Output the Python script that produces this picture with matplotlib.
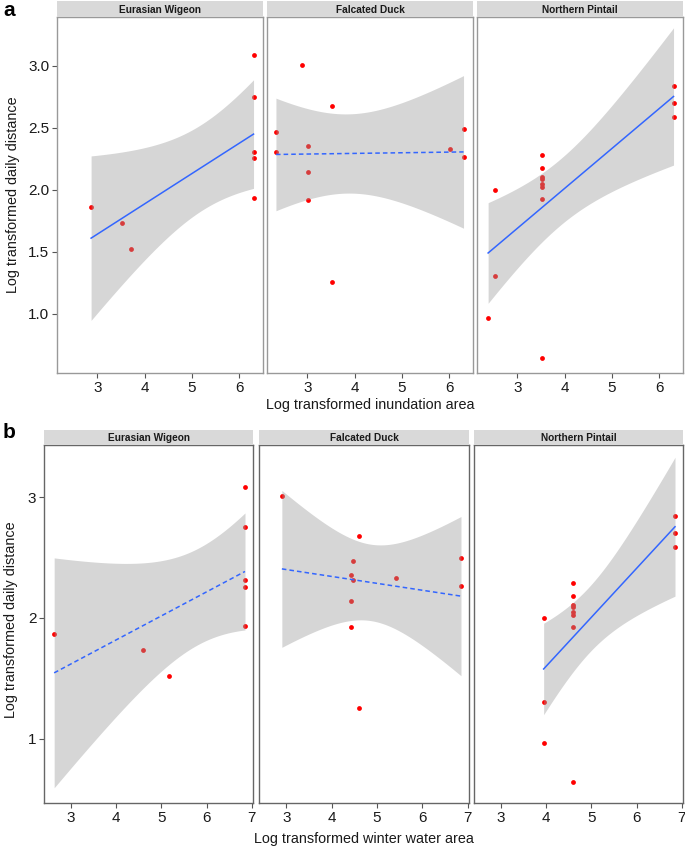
import numpy as np
import matplotlib
matplotlib.use("Agg")
import matplotlib.pyplot as plt

plt.rcParams['font.family'] = ['Liberation Sans', 'DejaVu Sans']

# Daten (log-transformiert), pro Art
species = ["Eurasian Wigeon", "Falcated Duck", "Northern Pintail"]

wigeon_dist = [1.865, 1.733, 1.524, 3.086, 2.748, 2.310, 2.256, 1.933]
wigeon_inund = [2.87, 3.53, 3.71, 6.30, 6.30, 6.30, 6.30, 6.30]
wigeon_winter = [2.625, 4.596, 5.162, 6.853, 6.853, 6.853, 6.853, 6.853]

falcated_dist = [3.011, 2.680, 2.468, 2.310, 2.352, 2.143, 1.922, 1.258, 2.334, 2.494, 2.264]
falcated_inund = [2.895, 3.527, 2.339, 2.339, 3.020, 3.020, 3.020, 3.527, 6.010, 6.300, 6.300]
falcated_winter = [2.904, 4.603, 4.471, 4.471, 4.426, 4.426, 4.426, 4.603, 5.419, 6.853, 6.853]

pintail_dist = [0.970, 2.003, 1.306, 2.286, 2.178, 2.108, 2.089, 2.049, 2.027, 1.925,
                0.645, 2.842, 2.703, 2.587]
pintail_inund = [2.385, 2.524, 2.524, 3.531, 3.531, 3.531, 3.531, 3.531, 3.531, 3.531,
                 3.531, 6.300, 6.300, 6.300]
pintail_winter = [3.943, 3.943, 3.943, 4.591, 4.591, 4.591, 4.591, 4.591, 4.591, 4.591,
                  4.591, 6.853, 6.853, 6.853]

# signifikant -> durchgezogen, sonst gestrichelt
styles_a = ["solid", "dashed", "solid"]
styles_b = ["dashed", "dashed", "solid"]

# t-Quantile (0.975) fuer df = n - 2
t975 = {6: 2.447, 9: 2.262, 12: 2.179}

W, H = 685, 849
fig = plt.figure(figsize=(W / 100, H / 100), dpi=100)


def px_axes(x0, y0, x1, y1):
    return fig.add_axes([x0 / W, 1 - y1 / H, (x1 - x0) / W, (y1 - y0) / H])


def lm_fit(x, y):
    x = np.asarray(x)
    y = np.asarray(y)
    n = len(x)
    b1, b0 = np.polyfit(x, y, 1)
    resid = y - (b0 + b1 * x)
    s = np.sqrt(np.sum(resid ** 2) / (n - 2))
    xs = np.linspace(x.min(), x.max(), 80)
    yhat = b0 + b1 * xs
    se = s * np.sqrt(1 / n + (xs - x.mean()) ** 2 / np.sum((x - x.mean()) ** 2))
    t = t975[n - 2]
    return xs, yhat, yhat - t * se, yhat + t * se


def panel(xs_list, ys_list, styles, boxes, strip_h, xlim, ylim, yticks, yfmt, xticks, border):
    for i, (x0, y0, x1, y1) in enumerate(boxes):
        ax = px_axes(x0, y0, x1, y1)
        xs, yhat, lo, hi = lm_fit(xs_list[i], ys_list[i])
        ax.scatter(xs_list[i], ys_list[i], s=12, color="#FF0000", zorder=2, linewidths=0)
        ax.fill_between(xs, lo, hi, color="#999999", alpha=0.4, linewidth=0, zorder=3)
        if styles[i] == "dashed":
            ax.plot(xs, yhat, color="#3366FF", lw=1.1, ls=(0, (3, 2)), zorder=4)
        else:
            ax.plot(xs, yhat, color="#3366FF", lw=1.1, zorder=4)
        ax.set_xlim(xlim)
        ax.set_ylim(ylim)
        ax.set_xticks(xticks)
        ax.set_yticks(yticks)
        ax.set_yticklabels([yfmt.format(v) for v in yticks])
        ax.tick_params(length=3.5, width=0.8, color="#555555", labelsize=11,
                       labelcolor="#1a1a1a", pad=2)
        if i > 0:
            ax.tick_params(axis="y", length=0, labelleft=False)
        for sp in ax.spines.values():
            sp.set_color(border)
            sp.set_linewidth(1.0)
        # Streifen mit Artname
        st = px_axes(x0, y0 - strip_h, x1, y0)
        st.set_facecolor("#D9D9D9")
        st.set_xticks([])
        st.set_yticks([])
        for sp in st.spines.values():
            sp.set_visible(False)
        st.text(0.5, 0.45, species[i], ha="center", va="center", fontsize=7.3,
                fontweight="bold", color="#1a1a1a")


# Teil a
boxes_a = [(57, 17, 263, 373), (267, 17, 473, 373), (477, 17, 683, 373)]
panel([wigeon_inund, falcated_inund, pintail_inund],
      [wigeon_dist, falcated_dist, pintail_dist],
      styles_a, boxes_a, 16, (2.15, 6.50), (0.524, 3.395),
      [1.0, 1.5, 2.0, 2.5, 3.0], "{:.1f}", [3, 4, 5, 6], "#999999")
fig.text(370 / W, 1 - 405 / H, "Log transformed inundation area", ha="center", va="center",
         fontsize=10.4, color="#1a1a1a")
fig.text(13 / W, 1 - 195 / H, "Log transformed daily distance", ha="center", va="center",
         rotation=90, fontsize=10.4, color="#1a1a1a")
fig.text(3 / W, 1 - 10 / H, "a", ha="left", va="center", fontsize=15, fontweight="bold")

# Teil b
boxes_b = [(44, 445, 253, 803), (259, 445, 469, 803), (474, 445, 683, 803)]
panel([wigeon_winter, falcated_winter, pintail_winter],
      [wigeon_dist, falcated_dist, pintail_dist],
      styles_b, boxes_b, 15, (2.40, 7.03), (0.47, 3.43),
      [1, 2, 3], "{:d}", [3, 4, 5, 6, 7], "#666666")
fig.text(364 / W, 1 - 839 / H, "Log transformed winter water area", ha="center", va="center",
         fontsize=10.4, color="#1a1a1a")
fig.text(11 / W, 1 - 620 / H, "Log transformed daily distance", ha="center", va="center",
         rotation=90, fontsize=10.4, color="#1a1a1a")
fig.text(3 / W, 1 - 433 / H, "b", ha="left", va="center", fontsize=15, fontweight="bold")

fig.savefig("out.png", dpi=100)
